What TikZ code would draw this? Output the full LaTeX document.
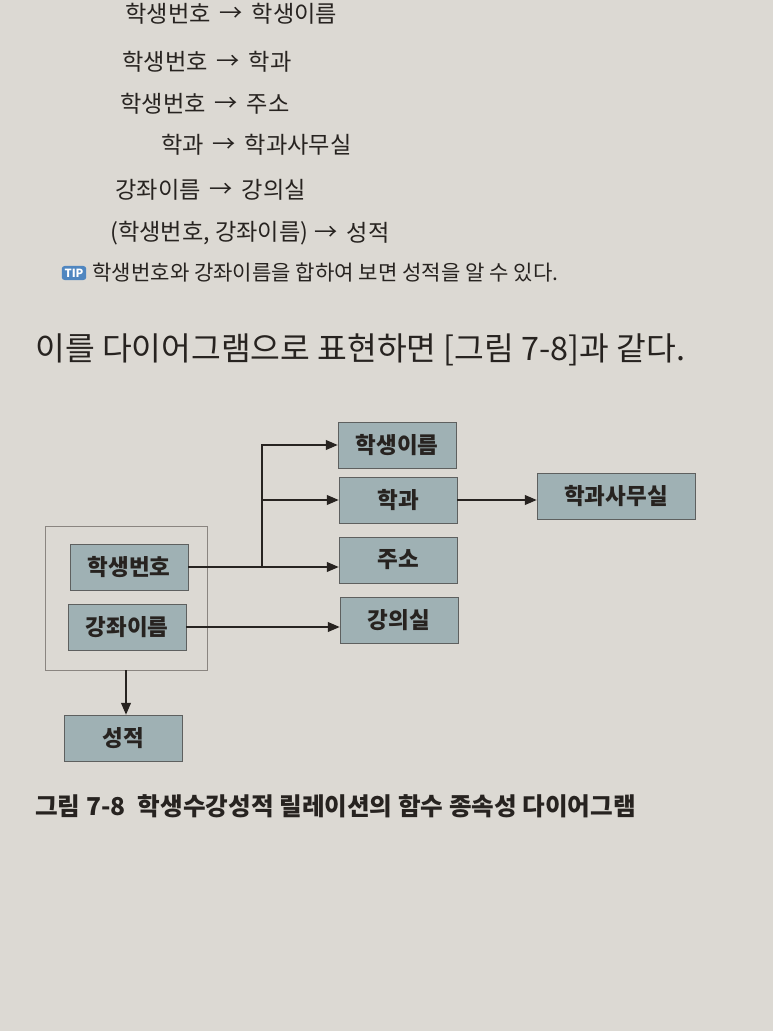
\documentclass[tikz,border=0pt]{standalone}
\usepackage{fontspec}
\setmainfont{Noto Sans CJK KR}
\usetikzlibrary{positioning, arrows.meta, calc}
\definecolor{paper}{HTML}{DCD9D3}
\definecolor{ink}{HTML}{272320}
\definecolor{attrfill}{HTML}{9FB1B4}
\definecolor{attrline}{HTML}{5E605F}
\definecolor{frameline}{HTML}{8A8580}
\definecolor{tipblue}{HTML}{4F86C0}

\begin{document}
\begin{tikzpicture}[x=0.025cm,y=-0.025cm,>={Triangle[length=8.5pt,width=7pt]},
    dep/.style={font=\fontsize{16.5}{18}\selectfont,text=ink,inner sep=0pt},
    attr/.style={draw=attrline,fill=attrfill,thin,minimum width=2.95cm,minimum height=1.15cm,
      font=\fontsize{16}{18}\selectfont\bfseries,text=ink},
    frame/.style={draw=frameline,thin,minimum width=4.05cm,minimum height=3.6cm},
    link/.style={->,draw=ink,line width=1.1pt}]
      \fill[paper] (0,0) rectangle (773,1031);
      \useasboundingbox (0,0) rectangle (773,1031);
      % dependency list
      \node[dep,anchor=east] (k1) at (211,14) {학생번호};
      \node[dep,right=6pt of k1] (a1) {→};
      \node[dep,right=6pt of a1] (v1) {학생이름};
      \node[dep,anchor=east] (k2) at (208,62) {학생번호};
      \node[dep,right=6pt of k2] (a2) {→};
      \node[dep,right=6pt of a2] (v2) {학과};
      \node[dep,anchor=east] (k3) at (206,104) {학생번호};
      \node[dep,right=6pt of k3] (a3) {→};
      \node[dep,right=6pt of a3] (v3) {주소};
      \node[dep,anchor=east] (k4) at (204,145) {학과};
      \node[dep,right=6pt of k4] (a4) {→};
      \node[dep,right=6pt of a4] (v4) {학과사무실};
      \node[dep,anchor=east] (k5) at (201,190) {강좌이름};
      \node[dep,right=6pt of k5] (a5) {→};
      \node[dep,right=6pt of a5] (v5) {강의실};
      \node[dep,anchor=west] (k6) at (110,233) {(학생번호, 강좌이름)};
      \node[dep,right=4pt of k6] (a6) {→};
      \node[dep,right=6pt of a6] (v6) {성적};
      % tip and sentence
      \node[fill=tipblue,rounded corners=2pt,inner sep=2pt,text=white,
        font=\fontsize{8}{9}\selectfont\bfseries] (tip) at (74,273) {TIP};
      \node[right=4pt of tip,inner sep=0pt,text=ink,font=\fontsize{15}{17}\selectfont] (tiptext)
        {학생번호와 강좌이름을 합하여 보면 성적을 알 수 있다.};
      \node[anchor=west,inner sep=0pt,text=ink,font=\fontsize{23}{26}\selectfont] (intro) at (35,350)
        {이를 다이어그램으로 표현하면 [그림 7-8]과 같다.};
      % diagram
      \node[frame] (key) at (126,598) {};
      \node[attr] (sno) at (129,567) {학생번호};
      \node[attr] (cname) at (127,627) {강좌이름};
      \node[attr] (grade) at (123,738) {성적};
      \node[attr] (sname) at (397,445) {학생이름};
      \node[attr] (dept) at (398,500) {학과};
      \node[attr] (addr) at (398,560) {주소};
      \node[attr] (room) at (399,620) {강의실};
      \node[attr,minimum width=3.95cm] (office) at (616,496) {학과사무실};
      \coordinate (br) at (262,567);
      \draw[link] (sno.east) -- (sno.east -| addr.west);
      \draw[link] (br) |- (sname.west);
      \draw[link] (br) |- (dept.west);
      \draw[link] (cname.east) -- (cname.east -| room.west);
      \draw[link] (dept.east) -- (dept.east -| office.west);
      \draw[link] (key.south) -- (key.south |- grade.north);
      % caption
      \node[anchor=west,inner sep=0pt,text=ink,font=\fontsize{17.5}{20}\selectfont\bfseries] (caption) at (35,806)
        {그림 7-8\enspace 학생수강성적 릴레이션의 함수 종속성 다이어그램};
    \end{tikzpicture}
\end{document}
